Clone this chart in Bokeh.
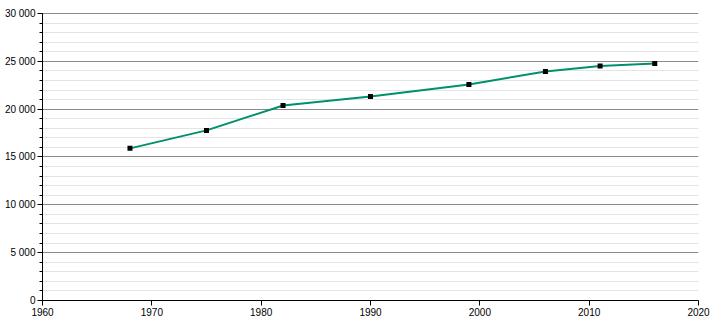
from bokeh.plotting import figure
from bokeh.models import Range1d, FixedTicker, ColumnDataSource
from bokeh.embed import file_html
from bokeh.resources import INLINE

years = [1968, 1975, 1982, 1990, 1999, 2006, 2011, 2016]
population = [15900, 17780, 20380, 21320, 22580, 23930, 24510, 24780]

x_ticks = [1960, 1970, 1980, 1990, 2000, 2010, 2020]
y_ticks = [0, 5000, 10000, 15000, 20000, 25000, 30000]
y_labels = ["0", "5 000", "10 000", "15 000", "20 000", "25 000", "30 000"]

src = ColumnDataSource(dict(x=years, y=population))

p = figure(width=710, height=320, output_backend="svg", toolbar_location=None,
           x_range=Range1d(1960, 2020), y_range=Range1d(0, 30100),
           frame_width=656, frame_height=288,
           min_border_left=42, min_border_right=12, min_border_top=12, min_border_bottom=20)
p.outline_line_color = None
p.background_fill_color = "white"
p.border_fill_color = "white"

p.xgrid.grid_line_color = None
p.ygrid.grid_line_color = "#8a8a8a"
p.ygrid.grid_line_width = 1
p.ygrid.minor_grid_line_color = "#e4e4e4"
p.ygrid.minor_grid_line_width = 1

p.xaxis.ticker = FixedTicker(ticks=x_ticks)
p.yaxis.ticker = FixedTicker(ticks=y_ticks, minor_ticks=list(range(0, 30001, 1000)))
p.yaxis.major_label_overrides = {t: l for t, l in zip(y_ticks, y_labels)}
p.yaxis.bounds = (0, 30000)

for ax in (p.xaxis, p.yaxis):
    ax.axis_line_color = "black"
    ax.axis_line_width = 1
    ax.major_tick_line_color = "black"
    ax.major_tick_out = 5
    ax.major_tick_in = 0
    ax.major_label_text_font = "Liberation Sans"
    ax.major_label_text_font_size = "10px"
    ax.major_label_text_color = "black"
    ax.major_label_standoff = 2
p.xaxis.minor_tick_line_color = None
p.yaxis.minor_tick_line_color = "black"
p.yaxis.minor_tick_out = 3
p.yaxis.minor_tick_in = 0

p.line("x", "y", source=src, line_color="#00906c", line_width=2)
p.scatter("x", "y", source=src, marker="square", size=5, fill_color="black", line_color=None)

open("out.html", "w").write(file_html(p, INLINE))
